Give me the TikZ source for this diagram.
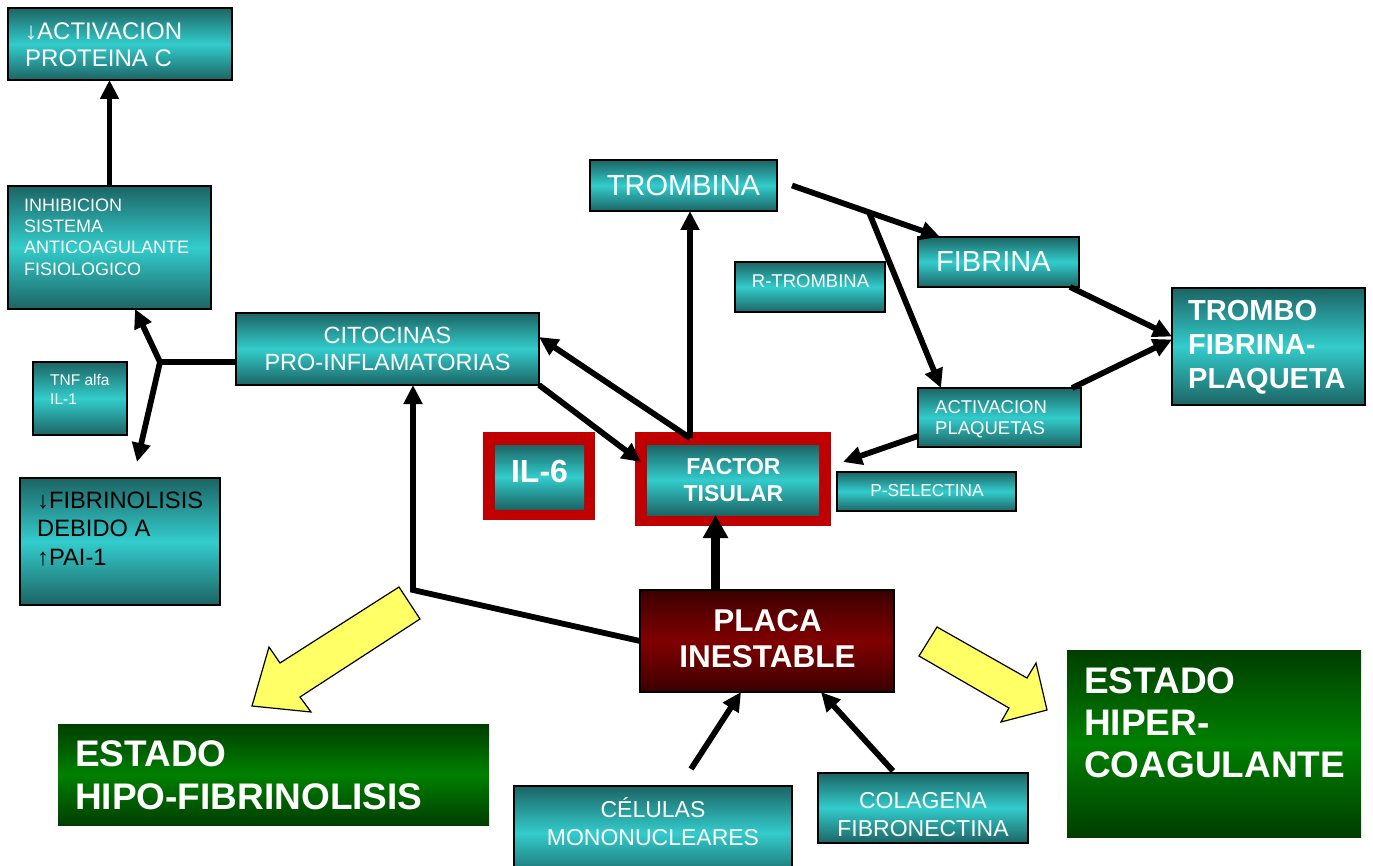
\documentclass[tikz,border=0pt]{standalone}
\usepackage{fontspec}
\setmainfont{Liberation Sans}
\usetikzlibrary{arrows.meta,fit,calc}
\definecolor{tdark}{RGB}{28,100,100}
\definecolor{tlight}{RGB}{51,204,204}
\definecolor{gdark}{RGB}{0,62,0}
\definecolor{glight}{RGB}{0,128,0}
\definecolor{rdark}{RGB}{60,0,0}
\definecolor{rlight}{RGB}{128,0,0}
\definecolor{fred}{RGB}{192,0,0}
\definecolor{yel}{RGB}{255,255,102}
\newcommand\fsz[2]{\fontsize{#1}{#2}\selectfont}
\begin{document}
\begin{tikzpicture}[x=1pt,y=-1pt,
 box/.style={inner sep=0pt, outer sep=0pt},
 tbox/.style={box, draw=black, line width=1.5pt, top color=tdark, bottom color=tdark, middle color=tlight},
 ibox/.style={box, top color=tdark, bottom color=tdark, middle color=tlight},
 rframe/.style={box, fill=fred},
 gbox/.style={box, top color=gdark, bottom color=gdark, middle color=glight},
 pbox/.style={box, draw=black, line width=1.5pt, top color=rdark, bottom color=rdark, middle color=rlight},
 txt/.style={inner sep=0pt, text=white},
 ln/.style={line width=5.8pt},
 arr/.style={ln, -{Triangle[length=19pt,width=18pt]}},
 bigarr/.style={line width=8.5pt, -{Triangle[length=23pt,width=24pt]}},
 yarrow/.style={fill=yel, draw=black, line width=1.2pt, line join=miter}
]
\fill[white] (0,0) rectangle (1373,866);
\useasboundingbox (0,0) rectangle (1373,866);

% yellow block arrows
\draw[yarrow] (399,587) -- (420,619) -- (300,697) -- (311,712) -- (252,706) -- (269,647) -- (280,663) -- cycle;
\draw[yarrow] (937,627) -- (919,656) -- (1009,708) -- (1001,722) -- (1047,710) -- (1036,663) -- (1027,678) -- cycle;

% boxes
\node[tbox, fit={(8,8)(232,80)}] (apc) {};
\node[txt, anchor=west, align=left, font=\fsz{24}{27}] (apc-t) at (25,44.5) {↓ACTIVACION\\PROTEINA C};

\node[tbox, fit={(8,186)(211,309)}] (inh) {};
\node[txt, anchor=west, align=left, font=\fsz{18}{21.3}] (inh-t) at (24,237) {INHIBICION\\SISTEMA\\ANTICOAGULANTE\\FISIOLOGICO};

\node[tbox, fit={(236,313)(539,385)}] (cit) {};
\node[txt, align=center, font=\fsz{23.5}{27}] (cit-t) at (387.5,348.5) {CITOCINAS\\PRO-INFLAMATORIAS};

\node[tbox, fit={(33,362)(127,435)}] (tnf) {};
\node[txt, anchor=west, align=left, font=\fsz{15.5}{19}] (tnf-t) at (50,389.5) {TNF alfa\\IL-1};

\node[tbox, fit={(20,478)(220,605)}] (fib) {};
\node[txt, text=black, anchor=west, align=left, font=\fsz{23.7}{28.5}] (fib-t) at (37,529) {↓FIBRINOLISIS\\DEBIDO A\\↑PAI-1};

\node[tbox, fit={(590,160)(777,211)}] (trb) {};
\node[txt, font=\fsz{29}{34}] (trb-t) at (683.5,185.5) {TROMBINA};

\node[tbox, fit={(735,262)(885,312)}] (rtr) {};
\node[txt, font=\fsz{18.5}{22}] (rtr-t) at (810.5,281) {R-TROMBINA};

\node[tbox, fit={(918,237)(1079,287)}] (fbn) {};
\node[txt, anchor=west, font=\fsz{29}{34}] (fbn-t) at (936,262) {FIBRINA};

\node[tbox, fit={(1172,288)(1365,405)}] (tro) {};
\node[txt, anchor=west, align=left, font=\bfseries\fsz{29}{34}] (tro-t) at (1188,347.5) {TROMBO\\FIBRINA-\\PLAQUETA};

\node[tbox, fit={(918,388)(1081,447)}] (apl) {};
\node[txt, anchor=west, align=left, font=\fsz{18.5}{21}] (apl-t) at (935,419) {ACTIVACION\\PLAQUETAS};

\node[rframe, fit={(635,432)(831,526)}] (fto) {};
\node[ibox, fit={(647,445)(819,515)}] (ft) {};
\node[txt, align=center, font=\bfseries\fsz{23}{27}] (ft-t) at (733.5,480) {FACTOR\\TISULAR};

\node[rframe, fit={(483,432)(595,520)}] (ilo) {};
\node[ibox, fit={(495,445)(584,509)}] (il) {};
\node[txt, font=\bfseries\fsz{32}{36}] (il-t) at (539.5,471.5) {IL-6};

\node[tbox, fit={(837,472)(1016,511)}] (psel) {};
\node[txt, font=\fsz{17.3}{20}] (psel-t) at (927,491) {P-SELECTINA};

\node[pbox, fit={(640,590)(894,692)}] (placa) {};
\node[txt, align=center, font=\bfseries\fsz{31.5}{36}] (placa-t) at (767.5,638.5) {PLACA\\INESTABLE};

\node[gbox, fit={(58,724)(489,825)}] (hipo) {};
\node[txt, anchor=west, align=left, font=\bfseries\fsz{37}{43}] (hipo-t) at (75,775.5) {ESTADO\\HIPO-FIBRINOLISIS};

\node[gbox, fit={(1067,650)(1361,837)}] (hiper) {};
\node[txt, anchor=west, align=left, font=\bfseries\fsz{37}{42}] (hiper-t) at (1084,723) {ESTADO\\HIPER-\\COAGULANTE};

\node[tbox, fit={(514,786)(792,880)}] (cel) {};
\node[txt, align=center, font=\fsz{23}{28}] (cel-t) at (653,822) {CÉLULAS\\MONONUCLEARES};

\node[tbox, fit={(818,773)(1028,843)}] (col) {};
\node[txt, align=center, font=\fsz{23}{28}] (col-t) at (923,814.5) {COLAGENA\\FIBRONECTINA};

% connectors
\draw[arr] (inh.north) -- (inh.north |- apc.south);
\coordinate (j1) at (160,362);
\draw[ln] (cit.west |- j1) -- (j1);
\draw[arr] (j1) -- ([xshift=127pt]inh.south west);
\draw[arr] (j1) -- ([xshift=117pt,yshift=16pt]fib.north west);

\draw[arr] (cit.south east) -- ([xshift=6pt,yshift=17pt]fto.west);
\coordinate (ft1) at ([xshift=-43pt,yshift=-6pt]fto.north);
\draw[arr] (ft1) -- ([yshift=12pt]cit.east);
\draw[arr] (ft1) -- (ft1 |- trb.south);

\coordinate (t0) at ([xshift=15pt]trb.east);
\coordinate (t1) at ([xshift=22pt]fbn.north west);
\draw[arr] (t0) -- (t1);
\coordinate (j2) at ($(t0)!0.52!(t1)$);
\draw[arr] (j2) -- ([xshift=23pt]apl.north west);

\draw[arr] ([xshift=-9pt]fbn.south east) -- ([yshift=10pt]tro.west);
\draw[arr] ([xshift=-9pt]apl.north east) -- ([yshift=7pt]tro.west);
\draw[arr] ([yshift=-18.5pt]apl.west) -- ([xshift=12pt,yshift=17pt]fto.east);

\coordinate (p0) at ([xshift=-51.5pt]placa.north);
\draw[bigarr] (p0) -- (p0 |- ft.south);

\coordinate (c3) at (413,590);
\draw[arr] (placa.west) -- (c3) -- (c3 |- cit.south);

\coordinate (ce1) at (691,769);
\draw[arr] (ce1) -- ([xshift=-26pt]placa.south);
\coordinate (co1) at (893,771);
\draw[arr] (co1) -- ([xshift=54pt]placa.south);
\end{tikzpicture}
\end{document}
